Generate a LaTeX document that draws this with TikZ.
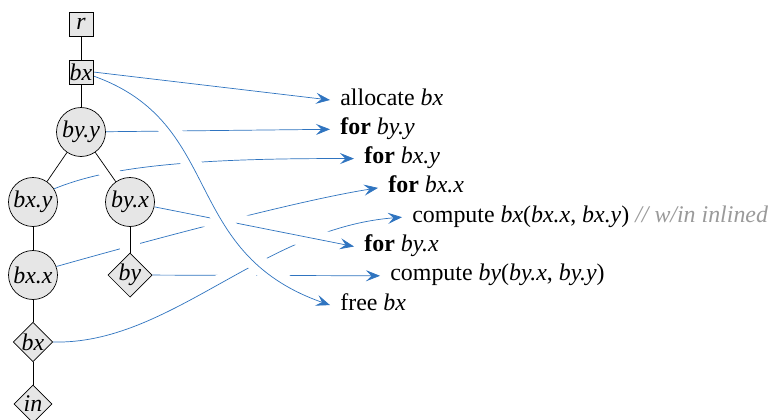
\documentclass[tikz,border=0pt]{standalone}
\usepackage{fontspec}
\setmainfont{Liberation Serif}
\usetikzlibrary{arrows.meta,shapes.geometric}
\definecolor{Flow}{HTML}{2F74C0}
\definecolor{NodeFill}{HTML}{E6E6E6}
\definecolor{Comment}{HTML}{9A9A9A}
\newcommand{\labelsize}{\fontsize{13.6}{16}\selectfont}
\pgfdeclarelayer{front}
\pgfsetlayers{main,front}
\tikzset{var/.style={circle,draw,fill=NodeFill,minimum size=.98cm,inner sep=0pt,font=\labelsize\itshape},buf/.style={rectangle,draw,fill=NodeFill,minimum size=.48cm,inner sep=0pt,font=\labelsize\itshape},stage/.style={diamond,aspect=1,draw,fill=NodeFill,minimum size=.76cm,inner sep=0pt,font=\labelsize\itshape},stmt/.style={anchor=west,inner xsep=.2cm,text height=.8em,text depth=.22em,font=\labelsize},link/.style={-{Stealth[length=2.8mm,width=2.2mm,inset=1.1mm]},Flow},cross/.style={preaction={draw=white,line width=11pt,-}}}

\begin{document}
\begin{tikzpicture}[x=.02cm,y=-.02cm,line width=.8pt]
  \useasboundingbox (0,0) rectangle (773,419);
  \begin{pgfonlayer}{front}
    % loop nest tree
    \node[buf] (r) at (81,24) {r};
    \node[buf] (bxbuf) at (81,72) {bx};
    \node[var] (byy) at (81,132) {by.y};
    \node[var] (bxy) at (33,202) {bx.y};
    \node[var] (byx) at (130,202) {by.x};
    \node[var] (bxx) at (33,275) {bx.x};
    \node[stage] (by) at (130,275) {by};
    \node[stage] (bxst) at (33,342) {bx};
    \node[stage] (inp) at (33,404) {in};
    % generated code
    \node[stmt] (alloc) at (330,100) {allocate \textit{bx}};
    \node[stmt] (fbyy) at (330,129.3) {\textbf{for} \textit{by.y}};
    \node[stmt] (fbxy) at (354,158.6) {\textbf{for} \textit{bx.y}};
    \node[stmt] (fbxx) at (378,187.9) {\textbf{for} \textit{bx.x}};
    \node[stmt] (cbx) at (402,217.2) {compute \textit{bx}(\textit{bx.x}, \textit{bx.y}) {\color{Comment}\itshape // w/in inlined}};
    \node[stmt] (fbyx) at (354,246.5) {\textbf{for} \textit{by.x}};
    \node[stmt] (cby) at (380,275.8) {compute \textit{by}(\textit{by.x}, \textit{by.y})};
    \node[stmt] (freebx) at (330,305.1) {free \textit{bx}};
  \end{pgfonlayer}
  % connectors, lowest first
  \draw[link,cross] (by) -- (cby.west);
  \draw[link,cross] (bxx.20) .. controls (150,240) and (300,200) .. (fbxx.west);
  \draw[link,cross] (bxst.east) .. controls (170,345) and (262,228) .. (cbx.west);
  \draw[link,cross] (byx) -- (fbyx.west);
  \draw[link,cross] (byy) -- (fbyy.west);
  \draw[link,cross] (bxy.32) .. controls (100,170) and (170,158) .. (fbxy.west);
  \draw[link,cross] ([yshift=-.08cm]bxbuf.east) .. controls (226,123) and (179,252) .. (freebx.west);
  \draw[link] (bxbuf.east) -- (alloc.west);
  % tree edges
  \draw[cross] (r) -- (bxbuf);
  \draw[cross] (bxbuf) -- (byy);
  \draw[cross] (byy) -- (bxy);
  \draw[cross] (byy) -- (byx);
  \draw[cross] (bxy) -- (bxx);
  \draw[cross] (byx) -- (by);
  \draw[cross] (bxx) -- (bxst);
  \draw[cross] (bxst) -- (inp);
\end{tikzpicture}
\end{document}
